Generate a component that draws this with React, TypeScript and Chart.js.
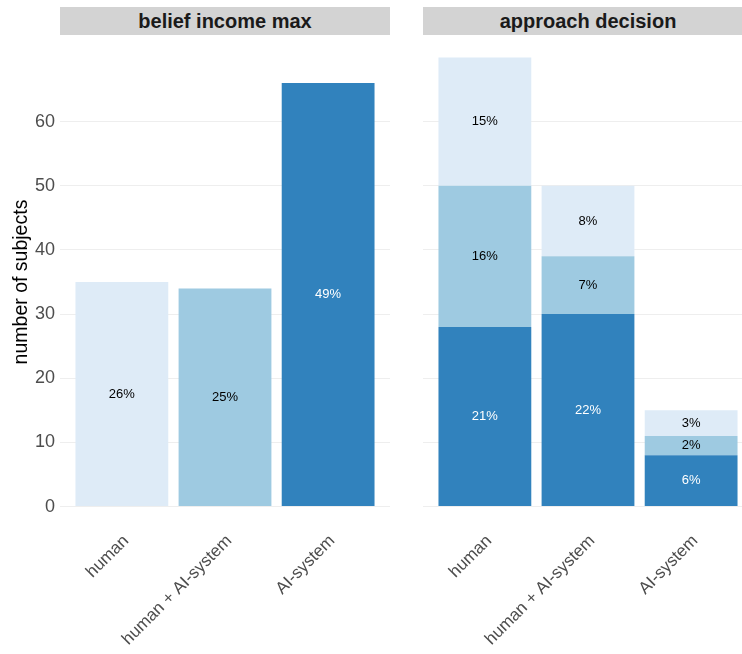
import React, { useEffect, useRef } from "react";
import { Chart, registerables } from "chart.js";

Chart.register(...registerables);

// ---------- data ----------
const CATEGORIES = ["human", "human + AI-system", "AI-system"];
const FACETS = ["belief income max", "approach decision"];

// belief income max (one level per category)
const BELIEF_DARK = [0, 0, 66];
const BELIEF_MEDIUM = [0, 34, 0];
const BELIEF_LIGHT = [35, 0, 0];

// approach decision (stacked levels)
const APPROACH_DARK = [28, 30, 8];
const APPROACH_MEDIUM = [22, 9, 3];
const APPROACH_LIGHT = [20, 11, 4];

const Y_TICKS = [0, 10, 20, 30, 40, 50, 60];
const Y_MIN = -3.5;
const Y_MAX = 73.5;

// ---------- style ----------
const COLORS = ["#3182bd", "#9ecae1", "#deebf7"]; // dark, medium, light
const LABEL_COLORS = ["#ffffff", "#000000", "#000000"];
const FONT = '"Liberation Sans", Arial, Helvetica, sans-serif';
const W = 742;
const H = 654;
const PLOT_TOP = 35;
const PLOT_BOTTOM = 529;
const LABEL_SHIFT = 0.04;

const pctPlugin = {
  id: "pct",
  afterDatasetsDraw(chart: any, _args: any, opts: any) {
    const ctx = chart.ctx;
    const total = opts.total;
    chart.data.datasets.forEach((ds: any, di: number) => {
      const meta = chart.getDatasetMeta(di);
      meta.data.forEach((el: any, i: number) => {
        const v = ds.data[i].y;
        if (!v) return;
        const { x, y, base } = el.getProps(["x", "y", "base"], true);
        ctx.save();
        ctx.fillStyle = LABEL_COLORS[di];
        ctx.font = "13px " + FONT;
        ctx.textAlign = "center";
        ctx.textBaseline = "middle";
        ctx.fillText(Math.round((v / total) * 100) + "%", x, (y + base) / 2);
        ctx.restore();
      });
    });
  },
};

function Panel(props: {
  left: number;
  width: number;
  axisWidth: number;
  showY: boolean;
  dark: number[];
  medium: number[];
  light: number[];
}) {
  const ref = useRef<HTMLCanvasElement>(null);
  useEffect(() => {
    if (!ref.current) return;
    const series = [props.dark, props.medium, props.light];
    const total = series.reduce((s, arr) => s + arr.reduce((a, b) => a + b, 0), 0);
    const chart = new Chart(ref.current, {
      type: "bar",
      data: {
        datasets: series.map((arr, k) => ({
          label: ["dark", "medium", "light"][k],
          data: arr.map((v, i) => ({ x: i + 1, y: v })),
          backgroundColor: COLORS[k],
          borderWidth: 0,
          barPercentage: 0.9,
          categoryPercentage: 1,
        })),
      },
      options: {
        responsive: false,
        animation: false,
        devicePixelRatio: 1,
        layout: { padding: { top: PLOT_TOP, left: 0, right: 0, bottom: 0 } },
        plugins: {
          legend: { display: false },
          tooltip: { enabled: false },
          pct: { total },
        } as any,
        scales: {
          x: {
            type: "linear",
            stacked: true,
            offset: false,
            min: 0.4,
            max: 3.6,
            grid: { display: false },
            border: { display: false },
            afterBuildTicks: (s: any) => {
              s.ticks = [1, 2, 3].map((v) => ({ value: v + LABEL_SHIFT }));
            },
            afterFit: (s: any) => {
              s.height = H - PLOT_BOTTOM;
            },
            ticks: {
              autoSkip: false,
              minRotation: 45,
              maxRotation: 45,
              padding: -6,
              color: "#4d4d4d",
              font: { family: FONT, size: 17 },
              callback: (v: any) => CATEGORIES[Math.round(v) - 1] ?? "",
            },
          },
          y: {
            type: "linear",
            stacked: true,
            min: Y_MIN,
            max: Y_MAX,
            afterBuildTicks: (s: any) => {
              s.ticks = Y_TICKS.map((v) => ({ value: v }));
            },
            afterFit: (s: any) => {
              s.width = props.axisWidth;
            },
            grid: { color: "#eeeeee", lineWidth: 1, drawTicks: false },
            border: { display: false },
            ticks: {
              display: props.showY,
              padding: 5,
              color: "#4d4d4d",
              font: { family: FONT, size: 18 },
            },
            title: {
              display: props.showY,
              text: "number of subjects",
              color: "#000000",
              font: { family: FONT, size: 19.5 },
              padding: { top: 10, bottom: 0 },
            },
          },
        },
      },
      plugins: [pctPlugin as any],
    });
    return () => chart.destroy();
  }, []);
  return (
    <canvas
      ref={ref}
      width={props.width}
      height={H}
      style={{
        position: "absolute",
        left: props.left,
        top: 0,
        width: props.width,
        height: H,
        display: "block",
      }}
    />
  );
}

function Strip(props: { left: number; width: number; text: string }) {
  return (
    <div
      style={{
        position: "absolute",
        left: props.left,
        top: 7,
        width: props.width,
        height: 28,
        background: "#d3d3d3",
        color: "#1a1a1a",
        fontFamily: FONT,
        fontWeight: "bold",
        fontSize: 20,
        lineHeight: "28px",
        textAlign: "center",
      }}
    >
      {props.text}
    </div>
  );
}

export default function App() {
  return (
    <div
      style={{
        position: "fixed",
        left: 0,
        top: 0,
        width: W,
        height: H,
        overflow: "hidden",
        background: "#ffffff",
      }}
    >
      <Panel
        left={0}
        width={390}
        axisWidth={60}
        showY={true}
        dark={BELIEF_DARK}
        medium={BELIEF_MEDIUM}
        light={BELIEF_LIGHT}
      />
      <Panel
        left={423}
        width={330}
        axisWidth={0}
        showY={false}
        dark={APPROACH_DARK}
        medium={APPROACH_MEDIUM}
        light={APPROACH_LIGHT}
      />
      <Strip left={60} width={330} text={FACETS[0]} />
      <Strip left={423} width={330} text={FACETS[1]} />
    </div>
  );
}
